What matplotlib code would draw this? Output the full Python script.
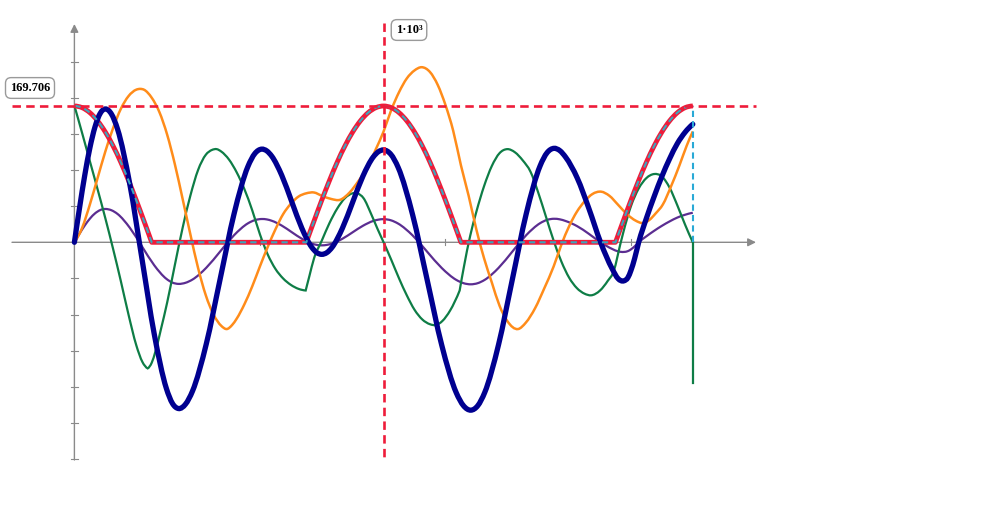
import matplotlib
matplotlib.use("Agg")
import matplotlib.pyplot as plt
from matplotlib.path import Path
from matplotlib.patches import PathPatch

# ---------------- data ----------------
clip_x = [0, 25, 50, 75, 100, 125, 150, 175, 200, 225, 250,
          750, 775, 800, 825, 850, 875, 900, 925, 950, 975, 1000, 1025, 1050, 1075, 1100,
          1125, 1150, 1175, 1200, 1225, 1250,
          1750, 1775, 1800, 1825, 1850, 1875, 1900, 1925, 1950, 1975, 2000]
clip_y = [169.7, 167.6, 161.4, 151.2, 137.3, 120.0, 99.8, 77.0, 52.4, 26.5, 0,
          0, 26.5, 52.4, 77.0, 99.8, 120.0, 137.3, 151.2, 161.4, 167.6, 169.7, 167.6, 161.4, 151.2, 137.3,
          120.0, 99.8, 77.0, 52.4, 26.5, 0,
          0, 26.5, 52.4, 77.0, 99.8, 120.0, 137.3, 151.2, 161.4, 167.6, 169.7]
clip_corners = [250, 750, 1250, 1750]

blue_x = [0, 16.7, 33.3, 50, 66.7, 83.3, 91.7, 100,
          119.75, 139.5, 179, 218.5, 258, 297.5, 317.25, 337,
          359.4, 381.8, 426.7, 471.5, 516.3, 561.2, 583.6, 606,
          622.2, 638.3, 670.7, 703, 735.3, 767.7, 783.8, 800,
          816.7, 833.3, 866.7, 900, 933.3, 966.7, 983.3, 1000,
          1023.5, 1047, 1094, 1141, 1188, 1235, 1258.5, 1282,
          1304.4, 1326.8, 1371.7, 1416.5, 1461.3, 1506.2, 1528.6, 1551,
          1569.8, 1588.7, 1626.3, 1664, 1701.7, 1739.3, 1758.2, 1777,
          1790, 1800, 1812, 1825, 1850, 1875, 1900, 1925, 1950, 1975, 2000]
blue_y = [0, 43, 83, 117.4, 143.8, 160.4, 164.6, 166,
          159.7, 141, 72.8, -20.5, -113.8, -182, -200.7, -207,
          -201.5, -185.4, -126.3, -45.5, 35.3, 94.4, 110.5, 116,
          113.8, 107.2, 83.3, 50.5, 17.8, -6.2, -12.8, -15,
          -12.8, -6.3, 17.5, 50, 82.5, 106.3, 112.8, 115,
          109.5, 93.3, 34, -47, -128, -187.3, -203.5, -209,
          -203.5, -187.2, -127.5, -46, 35.5, 95.2, 111.5, 117,
          114.2, 106, 80, 42, 0, -33, -45.2, -48,
          -44, -35, -20, 0, 30, 57, 82, 104, 123, 137, 147]

purple_x = blue_x
purple_y = [0, 10.8, 20.8, 29.4, 36, 40.1, 41.2, 41.5,
            39.9, 35.3, 18.2, -5.1, -28.5, -45.5, -50.2, -51.8,
            -50.4, -46.4, -31.6, -11.4, 8.8, 23.6, 27.6, 29,
            28.5, 26.8, 20.8, 12.6, 4.5, -1.6, -3.2, -3.8,
            -3.2, -1.6, 4.4, 12.5, 20.6, 26.6, 28.2, 28.8,
            27.4, 23.3, 8.5, -11.8, -32, -46.8, -50.9, -52.3,
            -50.9, -46.8, -31.9, -11.5, 8.9, 23.8, 27.9, 29.3,
            28.6, 26.5, 20, 10.5, 0, -8.3, -11.3, -12,
            -11, -8.8, -5, 0, 7.5, 14.3, 20.5, 26, 30.8, 34.3, 36.8]

orange_x = [0, 25, 50, 75, 100, 125, 150, 175, 200, 213, 225, 250, 275, 300, 325, 350, 375,
            400, 425, 450, 475, 493, 510, 525, 550, 575, 600, 625, 650, 675, 700, 725, 750,
            775, 800, 830, 860, 890, 920, 950, 975, 1000, 1025, 1050, 1075, 1100, 1123, 1150,
            1175, 1200, 1225, 1250, 1275, 1300, 1325, 1350, 1375, 1400, 1435, 1460, 1490, 1520,
            1550, 1575, 1600, 1625, 1650, 1675, 1704, 1730, 1760, 1790, 1815, 1838, 1860, 1880,
            1903, 1930, 1957, 1980, 2000]
orange_y = [0, 18, 47, 80, 113, 142, 166, 182, 190, 191, 190, 180, 162, 134, 97, 54, 10,
            -32, -66, -90, -104, -108, -103, -95, -77, -55, -30, -6, 16, 35, 48, 57, 61,
            62, 58, 54, 53, 62, 77, 95, 116, 138, 165, 187, 204, 214, 218, 212,
            196, 171, 139, 96, 58, 16, -20, -50, -79, -98, -108, -100, -82, -57,
            -30, -3, 20, 38, 51, 60, 63, 58, 46, 34, 27, 24, 28, 36,
            47, 70, 96, 120, 138]

green_x = [0, 25, 50, 75, 100, 125, 150, 175, 200, 220, 237, 250, 262, 280, 300, 325, 350,
           375, 400, 425, 445, 460, 475, 500, 525, 550, 575, 600, 625, 650, 675, 700, 725,
           748, 760, 775, 800, 825, 850, 875, 900, 915, 935, 960, 980, 1000, 1025, 1050,
           1075, 1100, 1125, 1150, 1170, 1190, 1215, 1246, 1260, 1280, 1300, 1325, 1350,
           1375, 1400, 1425, 1450, 1475, 1500, 1525, 1550, 1575, 1600, 1625, 1650, 1671,
           1700, 1725, 1745, 1755, 1775, 1800, 1825, 1850, 1875, 1900, 1925, 1950, 1975,
           2000]
green_y = [170, 136, 101, 66, 30, -8, -48, -90, -128, -149, -157, -150, -136, -108, -75, -28, 18,
           58, 90, 109, 115, 116, 113, 103, 87, 66, 40, 10, -15, -33, -45, -53, -58,
           -60, -42, -20, 2, 24, 42, 55, 61, 61, 55, 35, 17, 0, -22, -45,
           -66, -84, -96, -102, -103, -98, -85, -60, -30, 8, 38, 70, 95,
           111, 116, 112, 102, 88, 62, 32, 2, -24, -44, -57, -64, -66,
           -60, -48, -35, -20, 12, 45, 67, 80, 85, 82, 68, 46, 22,
           0]
green_corners = [237, 748, 1246, 1755]
green_end_drop = -175

peak_value = 169.706
marker_x = 1000
end_x = 2000
x_ticks = [600, 1200, 1800]
y_ticks = [-270, -225, -180, -135, -90, -45, 45, 90, 135, 180, 225]
peak_label = "169.706"
marker_label = "1\u00b710\u00b3"


def smooth_path(xs, ys, corners=()):
    """Smooth (cubic Hermite) path through the given points, sharp at corners."""
    n = len(xs)
    cut = [0] + [i for i in range(1, n - 1) if xs[i] in corners] + [n - 1]
    verts, codes = [(xs[0], ys[0])], [Path.MOVETO]
    for a, b in zip(cut[:-1], cut[1:]):
        px, py = xs[a:b + 1], ys[a:b + 1]
        k = len(px)
        d = [(py[i + 1] - py[i]) / (px[i + 1] - px[i]) for i in range(k - 1)]
        h = [px[i + 1] - px[i] for i in range(k - 1)]
        m = [0.0] * k
        if k == 2:
            m = [d[0], d[0]]
        else:
            for i in range(1, k - 1):
                m[i] = (d[i - 1] * h[i] + d[i] * h[i - 1]) / (h[i - 1] + h[i])
            m[0] = 2 * d[0] - m[1]
            m[-1] = 2 * d[-1] - m[-2]
        for i in range(k - 1):
            dx = h[i] / 3.0
            verts += [(px[i] + dx, py[i] + m[i] * dx),
                      (px[i + 1] - dx, py[i + 1] - m[i + 1] * dx),
                      (px[i + 1], py[i + 1])]
            codes += [Path.CURVE4] * 3
    return Path(verts, codes)


def draw(ax, xs, ys, corners=(), **kw):
    ax.add_patch(PathPatch(smooth_path(xs, ys, corners), fill=False, **kw))


# ---------------- figure ----------------
W, H = 998, 524
fig = plt.figure(figsize=(W / 100, H / 100), dpi=100)
ax = fig.add_axes([0, 0, 1, 1])
ax.axis("off")

px0, sx = 74.4, 0.3092      # pixel of x=0, pixels per unit
py0, sy = 242.3, 0.8032     # pixel of y=0, pixels per unit
ax.set_xlim(-px0 / sx, (W - px0) / sx)
ax.set_ylim(-(H - py0) / sy, py0 / sy)


def X(p):
    return (p - px0) / sx


def Y(p):
    return (py0 - p) / sy


axis_col = "#8a8a8a"
ax.annotate("", xy=(X(756), 0), xytext=(X(12), 0),
            arrowprops=dict(arrowstyle="-|>", color=axis_col, lw=1.0, mutation_scale=12,
                            shrinkA=0, shrinkB=0), zorder=1)
ax.annotate("", xy=(0, Y(24)), xytext=(0, Y(460)),
            arrowprops=dict(arrowstyle="-|>", color=axis_col, lw=1.0, mutation_scale=12,
                            shrinkA=0, shrinkB=0), zorder=1)
for t in y_ticks:
    ax.plot([X(71), X(77.5)], [t, t], color=axis_col, lw=0.8, zorder=1)
for t in x_ticks:
    ax.plot([t, t], [Y(239), Y(245.5)], color=axis_col, lw=0.8, zorder=1)

red = "#ee1c3a"
teal = "#3aa6be"

ax.plot([X(12), X(756)], [peak_value, peak_value], color=red, lw=1.9,
        dashes=(3.2, 2.0), zorder=6)
ax.plot([marker_x, marker_x], [Y(23), Y(460)], color=red, lw=1.9,
        dashes=(3.2, 2.0), zorder=6)

draw(ax, purple_x, purple_y, color="#5b2d91", lw=1.6, zorder=3)
draw(ax, green_x, green_y, green_corners, color="#0e7d46", lw=1.6, zorder=3)
ax.plot([end_x, end_x], [green_y[-1], green_end_drop], color="#0e7d46", lw=1.6, zorder=3)
draw(ax, orange_x, orange_y, color="#ff8c1a", lw=1.8, zorder=3)
draw(ax, clip_x, clip_y, clip_corners, color=red, lw=3.5, zorder=4, joinstyle="round")
draw(ax, clip_x, clip_y, clip_corners, color=teal, lw=1.5, linestyle=(0, (3, 2)), zorder=5)
draw(ax, blue_x, blue_y, color="#000090", lw=3.8, zorder=4.5, capstyle="round")
ax.plot([end_x, end_x], [0, peak_value], color="#29a9d6", lw=1.5, dashes=(3, 2), zorder=5)

box = dict(boxstyle="round,pad=0.35,rounding_size=0.45", fc="white", ec="#9a9a9a", lw=1.0)
ax.text(X(30), Y(88), peak_label, ha="center", va="center", fontsize=9,
        family="Liberation Serif", weight="bold", bbox=box, zorder=8)
ax.text(X(409), Y(30), marker_label, ha="center", va="center", fontsize=9,
        family="Liberation Serif", weight="bold", bbox=box, zorder=8)

fig.savefig("out.png", dpi=100)
